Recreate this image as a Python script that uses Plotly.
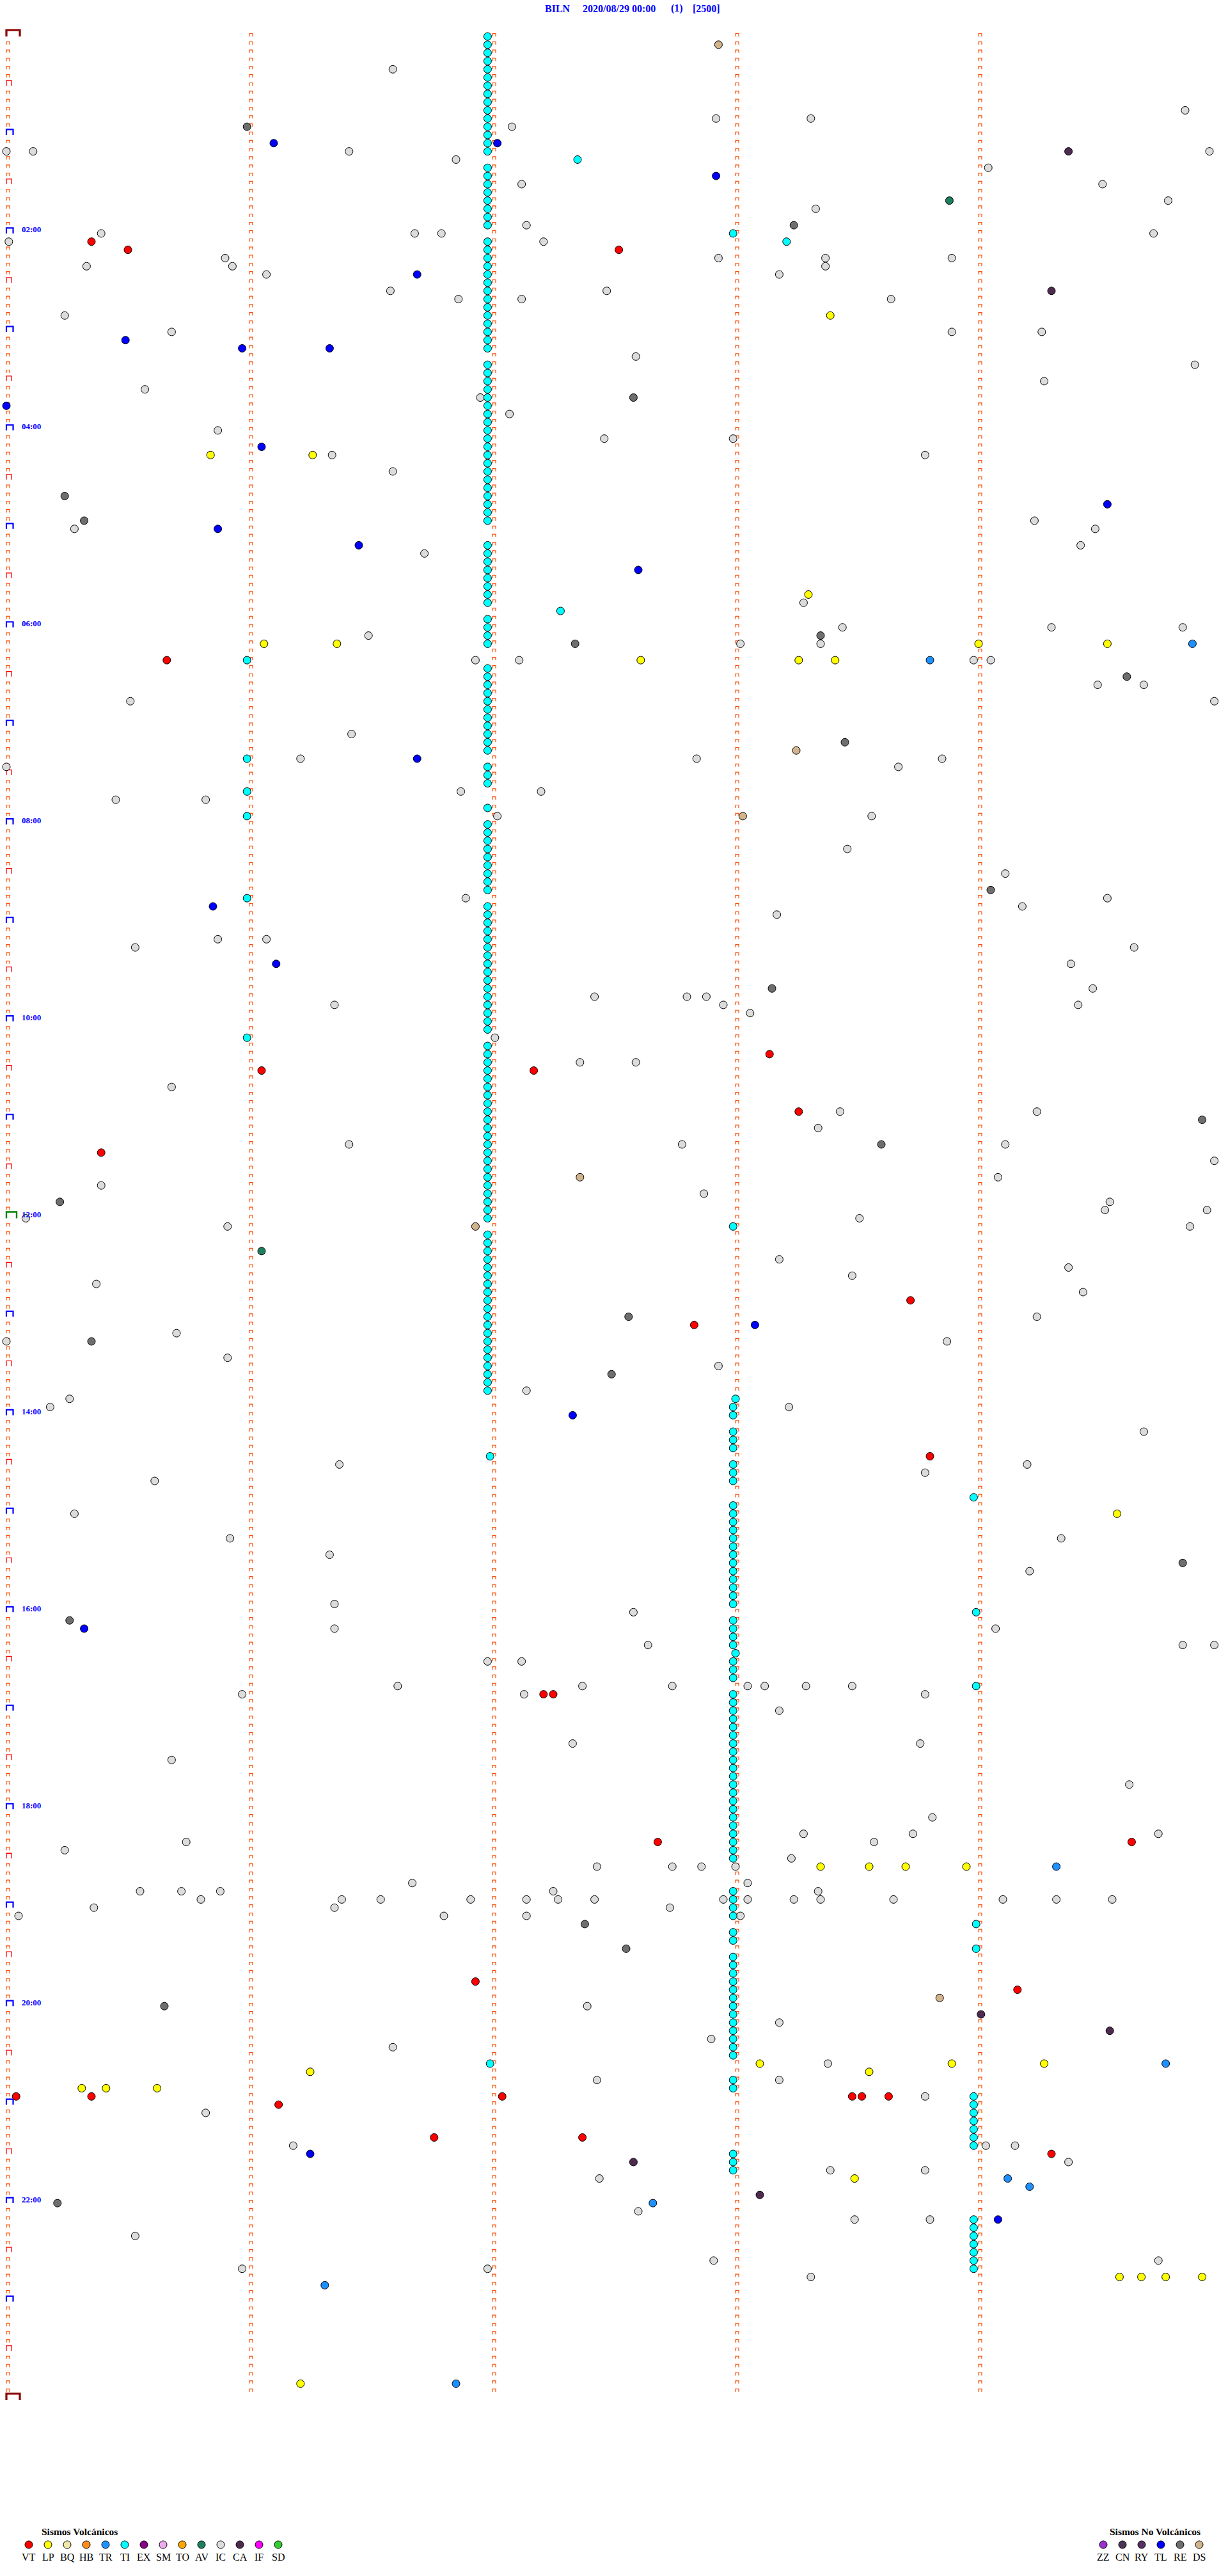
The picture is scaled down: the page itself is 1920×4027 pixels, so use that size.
import numpy as np
import plotly.graph_objects as go

# ---------------- header text ----------------
STATION = "BILN"
DATE_TXT = "2020/08/29 00:00"
PAGE_TXT = "(1)"
SCALE_TXT = "[2500]"

# ---------------- legend ----------------
VOLC_CODES = ["VT", "LP", "BQ", "HB", "TR", "TI", "EX", "SM", "TO", "AV", "IC", "CA", "IF", "SD"]
VOLC_COLORS = ["#FF0000", "#FFFF00", "#F0E6A8", "#FF8C1A", "#1E90FF", "#00FFFF", "#8B008B",
               "#EEAAEE", "#FFA500", "#1E7F5C", "#DCDCDC", "#4F2A4F", "#FF00FF", "#32CD32"]
NOVOLC_CODES = ["ZZ", "CN", "RY", "TL", "RE", "DS"]
NOVOLC_COLORS = ["#9932CC", "#4B3555", "#553060", "#0000FF", "#6E6E6E", "#D2B48C"]

# ---------------- hour labels ----------------
HOUR_LABELS = ["02:00", "04:00", "06:00", "08:00", "10:00", "12:00",
               "14:00", "16:00", "18:00", "20:00", "22:00"]
HOUR_LABEL_MIN = [120, 240, 360, 480, 600, 720, 840, 960, 1080, 1200, 1320]

# ---------------- events: minutes after 00:00 ----------------
IC_T = [21.59, 49.85, 57.08, 52.92, 53.31, 70.00, 70.11, 71.41, 76.85, 74.95, 84.04, 92.12, 94.51,
        104.78, 108.33, 117.14, 120.39, 121.68, 121.79, 124.72, 125.01, 127.21, 135.90, 137.93,
        138.37, 138.89, 140.93, 140.33, 143.37, 146.07, 148.18, 156.58, 157.47, 161.86, 162.12,
        163.64, 170.24, 180.68, 183.89, 184.26, 197.59, 204.89, 214.27, 215.57, 221.95, 232.07,
        247.99, 247.46, 240.87, 256.34, 258.78, 266.59, 300.28, 299.23, 304.48, 314.42, 316.72,
        348.28, 366.49, 363.44, 364.30, 364.84, 373.02, 373.35, 381.93, 382.11, 383.98, 384.05,
        399.49, 399.68, 405.51, 409.97, 426.42, 441.21, 442.84, 443.85, 448.67, 445.00, 461.87,
        462.20, 465.45, 465.82, 477.02, 478.56, 498.46, 514.11, 526.89, 534.18, 538.17, 529.53,
        550.87, 551.07, 559.64, 555.53, 569.38, 584.47, 587.42, 587.80, 587.88, 592.95, 591.35,
        594.41, 598.06, 612.01, 627.36, 627.59, 640.68, 658.43, 659.24, 668.34, 676.41, 677.78,
        679.11, 689.97, 699.08, 700.39, 707.87, 714.54, 719.52, 719.94, 720.08, 725.91, 723.51,
        729.87, 748.18, 754.37, 758.48, 760.37, 769.43, 795.00, 784.24, 790.70, 798.87, 805.91,
        812.93, 827.14, 830.26, 835.18, 838.22, 854.68, 878.78, 871.37, 874.20, 880.61, 900.28,
        915.92, 919.34, 926.33, 939.21, 956.35, 962.58, 971.35, 974.07, 982.64, 984.84, 984.97,
        991.98, 992.12, 1006.61, 1010.97, 1012.13, 1007.37, 1007.74, 1008.05, 1008.12, 1008.29,
        1008.48, 1013.78, 1023.18, 1042.33, 1043.76, 1050.68, 1069.62, 1088.81, 1105.24, 1100.74,
        1098.28, 1103.57, 1098.73, 1099.74, 1117.43, 1117.74, 1117.86, 1113.23, 1118.00, 1128.05,
        1130.55, 1130.72, 1135.80, 1130.88, 1126.67, 1136.38, 1141.35, 1136.54, 1136.91, 1137.14,
        1132.25, 1137.27, 1137.42, 1142.73, 1137.95, 1138.05, 1138.24, 1133.34, 1138.35, 1138.65,
        1139.10, 1139.32, 1139.55, 1145.05, 1140.36, 1146.80, 1147.14, 1148.02, 1202.39, 1213.18,
        1222.90, 1226.59, 1238.38, 1247.43, 1248.18, 1258.78, 1265.82, 1286.18, 1289.03, 1289.15,
        1299.37, 1303.39, 1307.44, 1303.78, 1327.60, 1333.49, 1333.80, 1340.53, 1357.91, 1360.97,
        1361.98, 1359.74, 1368.31]

RE_T = [55.99, 118.24, 222.58, 280.24, 295.32, 368.35, 372.34, 394.61, 433.45, 524.05, 583.15,
        664.92, 678.60, 710.22, 782.56, 795.35, 817.49, 934.84, 965.26, 1152.38, 1167.55,
        1200.65, 1320.21]

CA_T = [74.37, 159.30, 1209.01, 1219.54, 1297.58, 1318.10]

DS_T = [7.93, 438.25, 478.03, 697.36, 726.93, 1198.84]

AV_T = [103.88, 741.05]

TI_T = [
    # long run near minute 2
    1.98, 6.98, 11.98, 16.98, 21.98, 26.98, 31.98, 36.98, 41.98, 46.98, 51.98, 56.98, 61.98, 66.98, 71.98,
    81.98, 86.98, 91.98, 96.98, 101.98, 106.98, 111.98, 116.98,
    126.98, 131.98, 136.98, 141.98, 146.98, 151.98, 156.98, 161.98, 166.98, 171.98, 176.98, 181.98,
    186.98, 191.98,
    201.98, 206.98, 211.98, 216.98, 221.98, 226.98, 231.98, 236.98, 241.98, 246.98, 251.98, 256.98,
    261.98, 266.98, 271.98, 276.98, 281.98, 286.98, 291.98, 296.98,
    311.98, 316.98, 321.98, 326.98, 331.98, 336.98, 341.98, 346.98,
    356.98, 361.98, 366.98, 371.98,
    386.98, 391.98, 396.98, 401.98, 406.98, 411.98, 416.98, 421.98, 426.98, 431.98, 436.98,
    446.98, 451.98, 456.98,
    471.98,
    481.98, 486.98, 491.98, 496.98, 501.98, 506.98, 511.98, 516.98, 521.98,
    531.98, 536.98, 541.98, 546.98, 551.98, 556.98, 561.98, 566.98, 571.98, 576.98, 581.98, 586.98,
    591.98, 596.98, 601.98, 606.98,
    616.98, 621.98, 626.98, 631.98, 636.98, 641.98, 646.98, 651.98, 656.98, 661.98, 666.98, 671.98,
    676.98, 681.98, 686.98, 691.98, 696.98, 701.98, 706.98, 711.98, 716.98, 721.98,
    731.98, 736.98, 741.98, 746.98, 751.98, 756.98, 761.98, 766.98, 771.98, 776.98, 781.98, 786.98,
    791.98, 796.98, 801.98, 806.98, 811.98, 816.98, 821.98, 826.98,
    # run near minute 3
    833.00, 837.99, 842.99, 852.99, 857.99, 862.99, 872.99, 877.99, 882.99,
    897.99, 902.99, 907.99, 912.99, 917.99, 922.99, 927.99, 932.99, 937.99, 942.99, 947.99, 952.99, 957.99,
    967.99, 972.99, 977.99, 982.99, 988.00, 992.99, 997.99, 1002.99,
    1012.99, 1017.99, 1022.99, 1027.99, 1032.99, 1037.99, 1042.99, 1047.99, 1052.99, 1057.99, 1062.99,
    1067.99, 1072.99, 1077.99, 1082.99, 1087.99, 1092.99, 1097.99, 1102.99, 1107.99, 1112.99,
    1132.99, 1137.99, 1142.99, 1147.99, 1157.99, 1162.99,
    1172.99, 1177.99, 1182.99, 1187.99, 1192.99, 1197.99, 1202.99, 1207.99, 1212.99, 1217.99, 1222.99,
    1227.99, 1232.99, 1247.99, 1252.99, 1292.99, 1297.99, 1302.99,
    # run near minute 4
    1258.98, 1263.98, 1268.98, 1273.98, 1278.98, 1283.98, 1288.98,
    1333.98, 1338.98, 1343.98, 1348.98, 1353.98, 1358.98, 1363.98,
    # isolated
    77.35, 122.99, 128.21, 352.28, 380.99, 440.99, 460.99, 475.99, 525.99, 610.99, 727.99, 866.99,
    893.98, 963.99, 1008.99, 1153.99, 1168.99, 1236.99]

TL_T = [66.10, 67.02, 87.92, 146.69, 185.49, 190.97, 191.33, 225.00, 251.05, 289.53, 300.87, 311.45,
        327.60, 441.69, 530.85, 566.11, 788.08, 842.33, 970.32, 1291.25, 1334.08]

TR_T = [374.88, 383.80, 1119.32, 1239.77, 1309.12, 1314.21, 1322.66, 1371.31, 1431.85]

LP_T = [173.39, 255.84, 256.26, 343.30, 371.06, 371.36, 374.00, 374.53, 382.61, 383.26, 383.41,
        904.57, 1118.35, 1118.55, 1118.70, 1118.95, 1238.10, 1238.89, 1239.27, 1241.25, 1243.55,
        1250.31, 1250.41, 1250.62, 1308.49, 1369.58, 1369.67, 1369.77, 1369.92, 1431.21]

VT_T = [125.35, 130.50, 132.52, 380.66, 623.14, 631.05, 632.17, 658.26, 680.39, 773.72, 787.83,
        868.80, 1012.21, 1012.25, 1102.68, 1104.63, 1186.93, 1194.16, 1255.04, 1255.35, 1257.04,
        1258.48, 1258.52, 1258.63, 1261.12, 1281.76, 1282.37, 1294.30]

EVENTS = [("IC", IC_T), ("RE", RE_T), ("CA", CA_T), ("DS", DS_T), ("AV", AV_T), ("TI", TI_T),
          ("TL", TL_T), ("TR", TR_T), ("LP", LP_T), ("VT", VT_T)]

# ---------------- geometry ----------------
W, H = 1920, 4027
ROW_MIN = 5            # minutes per line
N_ROWS = 288           # 24 h
X0_PX, PX_PER_MIN = 10, 380.0
Y0_PX, Y1_PX = 57, 3752
PX_PER_ROW = (Y1_PX - Y0_PX) / N_ROWS

COLOR = dict(zip(VOLC_CODES + NOVOLC_CODES, VOLC_COLORS + NOVOLC_COLORS))


def to_xy(times):
    t = np.asarray(times, dtype=float)
    row = np.floor(t / ROW_MIN + 1e-9)
    return t - ROW_MIN * row, row


def brackets(xs, ys, w_px, h_px):
    X, Y = [], []
    w = w_px / PX_PER_MIN
    h = h_px / PX_PER_ROW
    for x, y in zip(xs, ys):
        X += [x, x, x + w, x + w, None]
        Y += [y, y - h, y - h, y, None]
    return X, Y


fig = go.Figure()

# ---- minute markers (small brackets) ----
small_x, small_y = [], []
half_x, half_y, hour_x, hour_y, noon_x, noon_y, end_x, end_y = [], [], [], [], [], [], [], []
for col in range(5):
    for r in range(N_ROWS + (1 if col == 0 else 0)):
        if col == 0 and r in (0, N_ROWS):
            end_x.append(col); end_y.append(r)
        elif col == 0 and r == 144:
            noon_x.append(col); noon_y.append(r)
        elif col == 0 and r % 12 == 0:
            hour_x.append(col); hour_y.append(r)
        elif col == 0 and r % 12 == 6:
            half_x.append(col); half_y.append(r)
        else:
            small_x.append(col); small_y.append(r)

for xs, ys, wpx, hpx, lw, colr in [
    (small_x, small_y, 5, 4.5, 1.2, "#FF4A00"),
    (half_x, half_y, 8, 8, 1.3, "#FF0000"),
    (hour_x, hour_y, 10.5, 8.5, 2.2, "#0000FF"),
    (noon_x, noon_y, 16, 10, 2.4, "#008000"),
    (end_x, end_y, 21, 10, 3.2, "#8B0000"),
]:
    X, Y = brackets(xs, ys, wpx, hpx)
    fig.add_trace(go.Scatter(x=X, y=Y, mode="lines", line=dict(color=colr, width=lw),
                             hoverinfo="skip", showlegend=False, cliponaxis=False))

# ---- events ----
for code, times in EVENTS:
    x, y = to_xy(times)
    fig.add_trace(go.Scatter(x=x, y=y, mode="markers", name=code, showlegend=False,
                             cliponaxis=False,
                             marker=dict(size=12, color=COLOR[code],
                                         line=dict(color="black", width=1))))

# ---- hour labels ----
annotations = []
for lab, mins in zip(HOUR_LABELS, HOUR_LABEL_MIN):
    annotations.append(dict(x=(32 - X0_PX) / PX_PER_MIN, y=mins / ROW_MIN, xref="x", yref="y",
                            text="<b>%s</b>" % lab, showarrow=False, xanchor="left",
                            yanchor="middle", yshift=6,
                            font=dict(family="Liberation Serif", size=13, color="#0000FF")))

# ---- title ----
for txt, cx in [(STATION, 872), (DATE_TXT, 968), (PAGE_TXT, 1058), (SCALE_TXT, 1104)]:
    annotations.append(dict(x=cx, y=13, xref="x2", yref="y2", text="<b>%s</b>" % txt,
                            showarrow=False, xanchor="center", yanchor="middle",
                            font=dict(family="Liberation Serif", size=16, color="#0000FF")))

# ---- legends ----
LEG_Y_HEAD, LEG_Y_DOT, LEG_Y_LAB = 3957, 3978, 3997
for codes, colors, x0, head, head_x in [
    (VOLC_CODES, VOLC_COLORS, 45, "Sismos Volcánicos", 63),
    (NOVOLC_CODES, NOVOLC_COLORS, 1725, "Sismos No Volcánicos", 1733),
]:
    xs = [x0 + 30 * i for i in range(len(codes))]
    fig.add_trace(go.Scatter(x=xs, y=[LEG_Y_DOT] * len(xs), xaxis="x2", yaxis="y2",
                             mode="markers", showlegend=False, hoverinfo="skip",
                             cliponaxis=False,
                             marker=dict(size=12, color=colors, line=dict(color="black", width=1))))
    for c, xx in zip(codes, xs):
        annotations.append(dict(x=xx, y=LEG_Y_LAB, xref="x2", yref="y2", text=c,
                                showarrow=False, xanchor="center", yanchor="middle",
                                font=dict(family="Liberation Serif", size=16, color="black")))
    annotations.append(dict(x=head_x, y=LEG_Y_HEAD, xref="x2", yref="y2", text="<b>%s</b>" % head,
                            showarrow=False, xanchor="left", yanchor="middle",
                            font=dict(family="Liberation Serif", size=15.5, color="black")))

fig.update_layout(
    width=W, height=H, margin=dict(l=0, r=0, t=0, b=0),
    paper_bgcolor="white", plot_bgcolor="white", showlegend=False,
    xaxis=dict(range=[-X0_PX / PX_PER_MIN, (W - X0_PX) / PX_PER_MIN], visible=False,
               fixedrange=True),
    yaxis=dict(range=[(H - Y0_PX) / PX_PER_ROW, -Y0_PX / PX_PER_ROW], visible=False,
               fixedrange=True),
    xaxis2=dict(range=[0, W], overlaying="x", visible=False, fixedrange=True),
    yaxis2=dict(range=[H, 0], overlaying="y", visible=False, fixedrange=True),
    annotations=annotations,
)

fig.write_html("out.html", config={"displayModeBar": False},
               post_script="document.body.style.margin='0';document.body.style.overflow='hidden';")
